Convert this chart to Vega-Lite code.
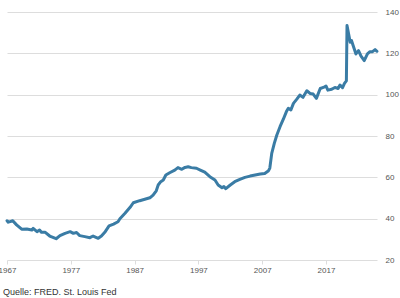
{
  "$schema": "https://vega.github.io/schema/vega-lite/v6.json",
  "width": 370,
  "height": 248,
  "autosize": {"type": "none"},
  "padding": {"left": 7, "top": 12, "right": 23, "bottom": 38},
  "config": {
    "view": {"stroke": null},
    "font": "Liberation Sans",
    "axis": {"labelFont": "Liberation Sans", "labelFontSize": 8, "labelColor": "#555555"}
  },
  "title": {
    "text": "Quelle: FRED. St. Louis Fed",
    "orient": "bottom",
    "anchor": "start",
    "frame": "group",
    "fontSize": 9,
    "fontWeight": "normal",
    "color": "#333333",
    "dx": -4,
    "offset": 14
  },
  "data": {
    "values": [
      {"year": 1967.0, "value": 39},
      {"year": 1967.2, "value": 38.3},
      {"year": 1967.5, "value": 38.6},
      {"year": 1967.9, "value": 39},
      {"year": 1968.5, "value": 37},
      {"year": 1969.3, "value": 34.9},
      {"year": 1970.1, "value": 35},
      {"year": 1970.9, "value": 34.5},
      {"year": 1971.1, "value": 35.3},
      {"year": 1971.7, "value": 33.7},
      {"year": 1972.1, "value": 34.5},
      {"year": 1972.4, "value": 33.4},
      {"year": 1973.0, "value": 33.4},
      {"year": 1973.7, "value": 31.6},
      {"year": 1974.7, "value": 30.3},
      {"year": 1975.3, "value": 31.8},
      {"year": 1976.1, "value": 32.9},
      {"year": 1976.9, "value": 33.7},
      {"year": 1977.4, "value": 32.9},
      {"year": 1977.9, "value": 33.3},
      {"year": 1978.4, "value": 31.8},
      {"year": 1979.2, "value": 31.3},
      {"year": 1980.0, "value": 30.8},
      {"year": 1980.5, "value": 31.6},
      {"year": 1981.3, "value": 30.5},
      {"year": 1981.8, "value": 31.6},
      {"year": 1982.4, "value": 33.7},
      {"year": 1983.0, "value": 36.5},
      {"year": 1983.7, "value": 37.4},
      {"year": 1984.4, "value": 38.5},
      {"year": 1984.7, "value": 40},
      {"year": 1985.5, "value": 42.6},
      {"year": 1986.3, "value": 45.5},
      {"year": 1986.8, "value": 47.7},
      {"year": 1987.8, "value": 48.7},
      {"year": 1988.6, "value": 49.4},
      {"year": 1989.4, "value": 50.1},
      {"year": 1989.9, "value": 51.4},
      {"year": 1990.4, "value": 53.5},
      {"year": 1990.7, "value": 56.3},
      {"year": 1991.1, "value": 57.9},
      {"year": 1991.5, "value": 58.7},
      {"year": 1991.9, "value": 61.1},
      {"year": 1992.5, "value": 62.2},
      {"year": 1993.3, "value": 63.5},
      {"year": 1993.8, "value": 64.7},
      {"year": 1994.4, "value": 63.9},
      {"year": 1994.9, "value": 64.8},
      {"year": 1995.4, "value": 65.1},
      {"year": 1995.9, "value": 64.7},
      {"year": 1996.7, "value": 64.4},
      {"year": 1997.3, "value": 63.5},
      {"year": 1998.0, "value": 62.5},
      {"year": 1998.8, "value": 60.3},
      {"year": 1999.6, "value": 58.7},
      {"year": 2000.1, "value": 56.3},
      {"year": 2000.7, "value": 55},
      {"year": 2001.0, "value": 55.5},
      {"year": 2001.3, "value": 54.5},
      {"year": 2002.0, "value": 56.3},
      {"year": 2002.7, "value": 57.9},
      {"year": 2003.5, "value": 59},
      {"year": 2004.3, "value": 60},
      {"year": 2005.1, "value": 60.6},
      {"year": 2005.9, "value": 61.1},
      {"year": 2006.7, "value": 61.6},
      {"year": 2007.4, "value": 61.9},
      {"year": 2008.0, "value": 63.2},
      {"year": 2008.2, "value": 64.5},
      {"year": 2008.5, "value": 71.6},
      {"year": 2008.9, "value": 76.4},
      {"year": 2009.3, "value": 80.5},
      {"year": 2009.8, "value": 84.5},
      {"year": 2010.3, "value": 88},
      {"year": 2010.8, "value": 91.8},
      {"year": 2011.1, "value": 93.4},
      {"year": 2011.5, "value": 92.6},
      {"year": 2011.9, "value": 95.8},
      {"year": 2012.4, "value": 97.7},
      {"year": 2012.9, "value": 99.8},
      {"year": 2013.4, "value": 98.7},
      {"year": 2014.0, "value": 101.9},
      {"year": 2014.5, "value": 100.6},
      {"year": 2015.0, "value": 100.3},
      {"year": 2015.5, "value": 98.2},
      {"year": 2016.1, "value": 103},
      {"year": 2016.6, "value": 103.5},
      {"year": 2017.0, "value": 104.2},
      {"year": 2017.3, "value": 102.2},
      {"year": 2017.9, "value": 102.6},
      {"year": 2018.4, "value": 103.5},
      {"year": 2018.9, "value": 103},
      {"year": 2019.2, "value": 104.7},
      {"year": 2019.6, "value": 103.4},
      {"year": 2019.9, "value": 105.5},
      {"year": 2020.2, "value": 106.7},
      {"year": 2020.3, "value": 133.5},
      {"year": 2020.6, "value": 128.6},
      {"year": 2020.8, "value": 125.4},
      {"year": 2021.0, "value": 126.2},
      {"year": 2021.4, "value": 122.5},
      {"year": 2021.7, "value": 119.7},
      {"year": 2022.1, "value": 121.3},
      {"year": 2022.5, "value": 118.6},
      {"year": 2023.0, "value": 116.5},
      {"year": 2023.5, "value": 119.7},
      {"year": 2023.9, "value": 120.8},
      {"year": 2024.3, "value": 120.8},
      {"year": 2024.7, "value": 121.8},
      {"year": 2025.0, "value": 121}
    ]
  },
  "mark": {"type": "line", "color": "#3a7ca5", "strokeWidth": 3, "strokeJoin": "round", "strokeCap": "round", "clip": false},
  "encoding": {
    "x": {
      "field": "year",
      "type": "quantitative",
      "scale": {"domain": [1967, 2025], "nice": false, "zero": false},
      "axis": {
        "title": null,
        "values": [1967, 1977, 1987, 1997, 2007, 2017],
        "format": "d",
        "grid": false,
        "domain": false,
        "ticks": true,
        "tickSize": 4,
        "tickColor": "#dddddd",
        "labelPadding": 2,
        "labelFlush": false,
        "labelOverlap": false
      }
    },
    "y": {
      "field": "value",
      "type": "quantitative",
      "scale": {"domain": [20, 140], "nice": false, "zero": false},
      "axis": {
        "title": null,
        "orient": "right",
        "values": [20, 40, 60, 80, 100, 120, 140],
        "grid": true,
        "gridColor": "#dddddd",
        "gridWidth": 1,
        "domain": false,
        "ticks": false,
        "labelPadding": 8
      }
    }
  }
}
